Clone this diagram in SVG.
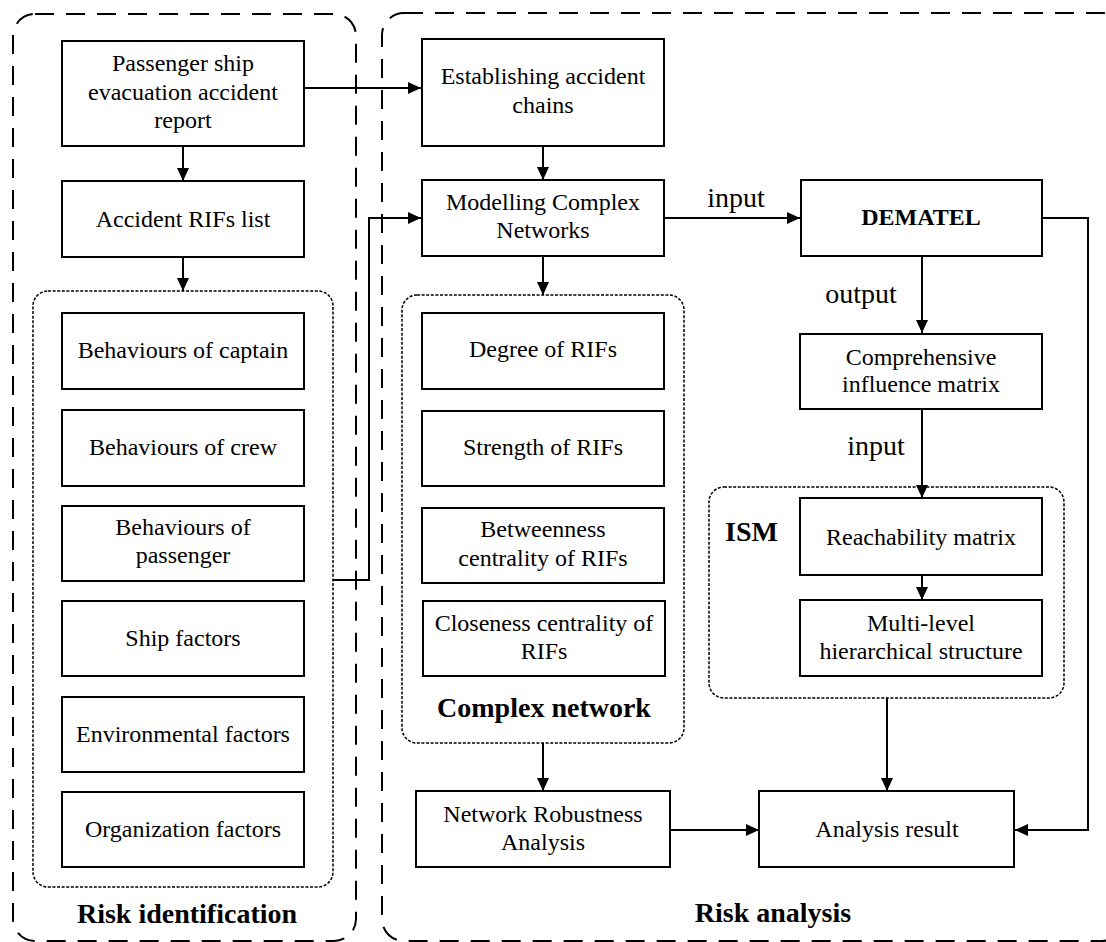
<svg xmlns="http://www.w3.org/2000/svg" width="1106" height="942" viewBox="0 0 1106 942">
<style>
.box{fill:#fff;stroke:#000;stroke-width:2}
.outer{fill:none;stroke:#000;stroke-width:2;stroke-dasharray:19 12}
.dot{fill:none;stroke:#000;stroke-width:1.5;stroke-dasharray:3 1.6}
.t{font-family:"Liberation Serif","Times New Roman",serif;font-size:24px;fill:#000;text-anchor:middle}
.b{font-family:"Liberation Serif","Times New Roman",serif;font-weight:bold;fill:#000}
.lbl{font-family:"Liberation Serif","Times New Roman",serif;font-size:28px;fill:#000;text-anchor:middle}
.c{fill:none;stroke:#000;stroke-width:2}
</style>
<defs>
<marker id="ah" viewBox="0 0 13 12" refX="13" refY="6" markerWidth="13" markerHeight="12" markerUnits="userSpaceOnUse" orient="auto">
<path d="M0,0 L13,6 L0,12 z" fill="#000"/>
</marker>
</defs>
<rect width="1106" height="942" fill="#fff"/>

<g id="group-risk-identification">
<rect class="outer" x="13" y="14" width="343" height="927" rx="22"/>
<text class="b" x="187" y="923" font-size="28" text-anchor="middle">Risk identification</text>
</g>
<g id="group-risk-analysis">
<rect class="outer" x="382" y="13" width="742" height="928" rx="22"/>
<text class="b" x="773" y="922" font-size="28" text-anchor="middle">Risk analysis</text>
</g>
<g id="group-rifs">
<rect class="dot" x="33" y="291" width="300" height="596" rx="15"/>
</g>
<g id="group-complex-network">
<rect class="dot" x="402" y="295" width="282" height="448" rx="15"/>
<text class="b" x="544" y="717" font-size="28" text-anchor="middle">Complex network</text>
</g>
<g id="group-ism">
<rect class="dot" x="709" y="487" width="355" height="211" rx="15"/>
<text class="b" x="725" y="541" font-size="28">ISM</text>
</g>

<g id="connectors">
<line class="c" x1="304" y1="88" x2="421" y2="88" marker-end="url(#ah)"/>
<line class="c" x1="183" y1="146" x2="183" y2="181" marker-end="url(#ah)"/>
<line class="c" x1="183" y1="257" x2="183" y2="291" marker-end="url(#ah)"/>
<polyline class="c" points="333,580 369,580 369,218 421,218" marker-end="url(#ah)"/>
<line class="c" x1="543" y1="146" x2="543" y2="180" marker-end="url(#ah)"/>
<line class="c" x1="543" y1="256" x2="543" y2="295" marker-end="url(#ah)"/>
<line class="c" x1="664" y1="218" x2="800" y2="218" marker-end="url(#ah)"/>
<text class="lbl" x="736" y="207">input</text>
<line class="c" x1="922" y1="256" x2="922" y2="333" marker-end="url(#ah)"/>
<text class="lbl" x="861" y="303">output</text>
<line class="c" x1="922" y1="409" x2="922" y2="498" marker-end="url(#ah)"/>
<text class="lbl" x="876" y="455">input</text>
<line class="c" x1="922" y1="575" x2="922" y2="600" marker-end="url(#ah)"/>
<line class="c" x1="887" y1="698" x2="887" y2="791" marker-end="url(#ah)"/>
<line class="c" x1="543" y1="743" x2="543" y2="791" marker-end="url(#ah)"/>
<line class="c" x1="670" y1="830" x2="759" y2="830" marker-end="url(#ah)"/>
<polyline class="c" points="1042,218 1088,218 1088,830 1015,830" marker-end="url(#ah)"/>
</g>

<g id="n-report">
<rect class="box" x="62" y="41" width="242" height="105"/>
<text class="t" x="183" y="71">Passenger ship</text>
<text class="t" x="183" y="100">evacuation accident</text>
<text class="t" x="183" y="128">report</text>
</g>
<g id="n-rifs-list">
<rect class="box" x="62" y="181" width="242" height="76"/>
<text class="t" x="183" y="227">Accident RIFs list</text>
</g>
<g id="n-captain">
<rect class="box" x="62" y="313" width="242" height="76"/>
<text class="t" x="183" y="358">Behaviours of captain</text>
</g>
<g id="n-crew">
<rect class="box" x="62" y="410" width="242" height="76"/>
<text class="t" x="183" y="455">Behaviours of crew</text>
</g>
<g id="n-passenger">
<rect class="box" x="62" y="506" width="242" height="75"/>
<text class="t" x="183" y="535">Behaviours of</text>
<text class="t" x="183" y="563">passenger</text>
</g>
<g id="n-ship">
<rect class="box" x="62" y="601" width="242" height="75"/>
<text class="t" x="183" y="646">Ship factors</text>
</g>
<g id="n-env">
<rect class="box" x="62" y="697" width="242" height="75"/>
<text class="t" x="183" y="742">Environmental factors</text>
</g>
<g id="n-org">
<rect class="box" x="62" y="792" width="242" height="75"/>
<text class="t" x="183" y="837">Organization factors</text>
</g>

<g id="n-chains">
<rect class="box" x="422" y="39" width="242" height="107"/>
<text class="t" x="543" y="84">Establishing accident</text>
<text class="t" x="543" y="113">chains</text>
</g>
<g id="n-modelling">
<rect class="box" x="422" y="180" width="242" height="76"/>
<text class="t" x="543" y="210">Modelling Complex</text>
<text class="t" x="543" y="238">Networks</text>
</g>
<g id="n-degree">
<rect class="box" x="422" y="313" width="242" height="76"/>
<text class="t" x="543" y="357">Degree of RIFs</text>
</g>
<g id="n-strength">
<rect class="box" x="422" y="411" width="242" height="75"/>
<text class="t" x="543" y="455">Strength of RIFs</text>
</g>
<g id="n-betweenness">
<rect class="box" x="422" y="508" width="242" height="75"/>
<text class="t" x="543" y="537">Betweenness</text>
<text class="t" x="543" y="566">centrality of RIFs</text>
</g>
<g id="n-closeness">
<rect class="box" x="423" y="601" width="242" height="75"/>
<text class="t" x="544" y="631">Closeness centrality of</text>
<text class="t" x="544" y="659">RIFs</text>
</g>
<g id="n-robustness">
<rect class="box" x="416" y="791" width="254" height="76"/>
<text class="t" x="543" y="822">Network Robustness</text>
<text class="t" x="543" y="850">Analysis</text>
</g>

<g id="n-dematel">
<rect class="box" x="801" y="180" width="241" height="76"/>
<text class="b" x="921" y="225" font-size="24" text-anchor="middle">DEMATEL</text>
</g>
<g id="n-comprehensive">
<rect class="box" x="800" y="334" width="242" height="75"/>
<text class="t" x="921" y="365">Comprehensive</text>
<text class="t" x="921" y="392">influence matrix</text>
</g>
<g id="n-reachability">
<rect class="box" x="800" y="498" width="242" height="77"/>
<text class="t" x="921" y="545">Reachability matrix</text>
</g>
<g id="n-multilevel">
<rect class="box" x="800" y="600" width="242" height="76"/>
<text class="t" x="921" y="631">Multi-level</text>
<text class="t" x="921" y="659">hierarchical structure</text>
</g>
<g id="n-result">
<rect class="box" x="759" y="791" width="255" height="76"/>
<text class="t" x="887" y="837">Analysis result</text>
</g>
</svg>
